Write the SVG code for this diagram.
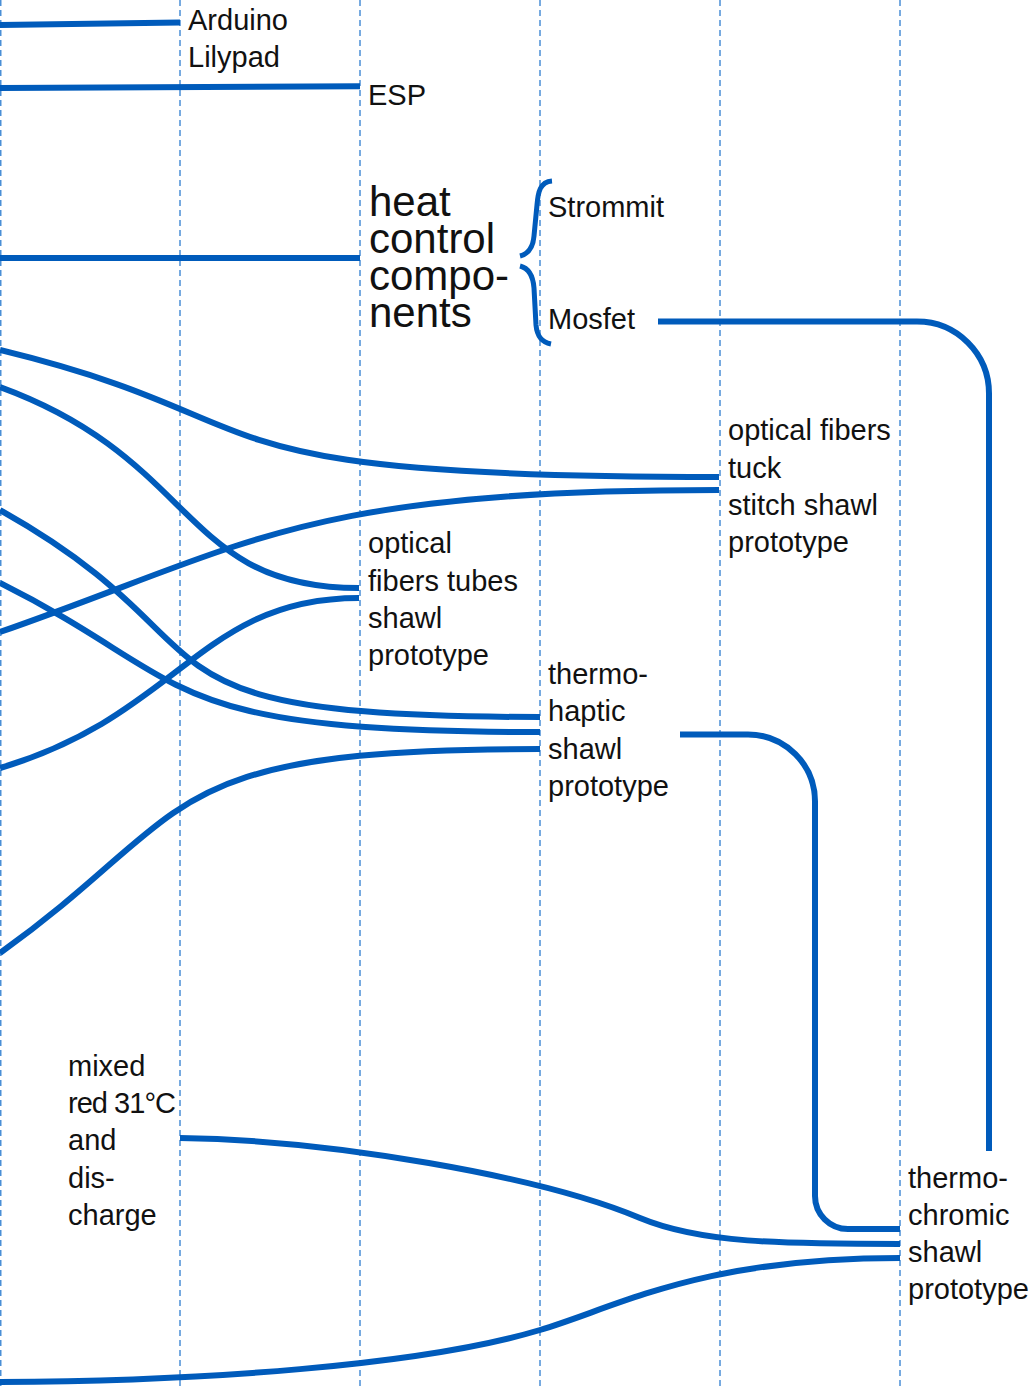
<svg xmlns="http://www.w3.org/2000/svg" width="1036" height="1387" viewBox="0 0 1036 1387">
<style>
.grid{stroke:#4a8fd6;stroke-width:1.5;stroke-dasharray:6 4;fill:none}
.c{stroke:#005bbb;stroke-width:6;fill:none;stroke-linecap:butt}
.br{stroke:#005bbb;stroke-width:5;fill:none}
.t{font-family:"Liberation Sans",Arial,sans-serif;font-size:29px;fill:#111}
.big{font-family:"Liberation Sans",Arial,sans-serif;font-size:42px;fill:#111}
</style>
<rect width="1036" height="1387" fill="#ffffff"/>
<g id="grid">
<line class="grid" x1="0.75" y1="0" x2="0.75" y2="1387"/>
<line class="grid" x1="180" y1="0" x2="180" y2="1387"/>
<line class="grid" x1="360" y1="0" x2="360" y2="1387"/>
<line class="grid" x1="540" y1="0" x2="540" y2="1387"/>
<line class="grid" x1="720" y1="0" x2="720" y2="1387"/>
<line class="grid" x1="900" y1="0" x2="900" y2="1387"/>
</g>
<g id="connectors">
<path class="c" d="M0,25 C60,24 120,23 180,22.5"/>
<path class="c" d="M0,88 L360,86.3"/>
<path class="c" d="M0,258 L360,258"/>
<path class="c" d="M0,350 C300,423 159,477 719,477"/>
<path class="c" d="M0,632 C250,545 300,490 719,490"/>
<path class="c" d="M0,387 C200,460 180,588 359,588"/>
<path class="c" d="M0,768 C180,715 200,598 359,598"/>
<path class="c" d="M0,510 C250,650 100,717 540,717"/>
<path class="c" d="M0,583 C200,683 150,732 540,732"/>
<path class="c" d="M0,953 C200,810 150,749 540,749"/>
<path class="c" d="M180,1138 C330,1140 540,1176 640,1218 C700,1243 780,1244 900,1244"/>
<path class="c" d="M0,1382 C200,1381 420,1366 540,1330 C620,1306 700,1258 900,1258"/>
<path class="c" d="M658,321.5 H917 A72,72 0 0 1 989,393.5 V1151"/>
<path class="c" d="M680,734.5 H748 A67,67 0 0 1 815,801.5 V1196 A33,33 0 0 0 848,1229 H900"/>
</g>
<g id="node-arduino"><text class="t"><tspan x="188" y="30">Arduino</tspan><tspan x="188" y="66.5">Lilypad</tspan></text></g>
<g id="node-esp"><text class="t" x="368" y="105">ESP</text></g>
<g id="node-heat"><text class="big"><tspan x="369" y="216">heat</tspan><tspan x="369" y="253">control</tspan><tspan x="369" y="290">compo-</tspan><tspan x="369" y="327">nents</tspan></text></g>
<g id="brace">
<path class="br" d="M552,181 C540,182 538,192 537,205 L534,236 C533,248 528,254 520,256"/>
<path class="br" d="M520,266 C528,268 533,275 534,288 L536,325 C537,336 541,342 551,344"/>
</g>
<g id="node-strommit"><text class="t" x="548" y="217">Strommit</text></g>
<g id="node-mosfet"><text class="t" x="548" y="328.5">Mosfet</text></g>
<g id="node-tuck"><text class="t"><tspan x="728" y="440">optical fibers</tspan><tspan x="728" y="477.5">tuck</tspan><tspan x="728" y="515">stitch shawl</tspan><tspan x="728" y="552">prototype</tspan></text></g>
<g id="node-tubes"><text class="t"><tspan x="368" y="553">optical</tspan><tspan x="368" y="590.5">fibers tubes</tspan><tspan x="368" y="628">shawl</tspan><tspan x="368" y="665">prototype</tspan></text></g>
<g id="node-haptic"><text class="t"><tspan x="548" y="684">thermo-</tspan><tspan x="548" y="721.3">haptic</tspan><tspan x="548" y="758.7">shawl</tspan><tspan x="548" y="796">prototype</tspan></text></g>
<g id="node-mixed"><text class="t"><tspan x="68" y="1075.7">mixed</tspan><tspan x="68" y="1113" textLength="108" lengthAdjust="spacing">red 31°C</tspan><tspan x="68" y="1150.3">and</tspan><tspan x="68" y="1187.7">dis-</tspan><tspan x="68" y="1225">charge</tspan></text></g>
<g id="node-chromic"><text class="t"><tspan x="908" y="1188">thermo-</tspan><tspan x="908" y="1225">chromic</tspan><tspan x="908" y="1262">shawl</tspan><tspan x="908" y="1299">prototype</tspan></text></g>
</svg>
